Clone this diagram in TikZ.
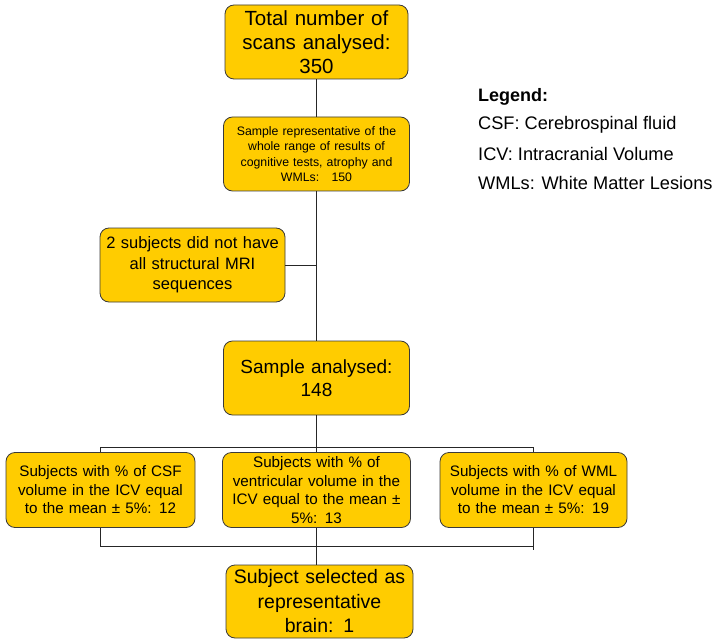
\documentclass[tikz,border=0pt]{standalone}
\usepackage{fontspec}
\setmainfont{Liberation Sans}
\definecolor{boxfill}{HTML}{FFCC00}
\definecolor{boxline}{HTML}{3A3A3A}
\begin{document}
\begin{tikzpicture}[x=1pt,y=-1pt,
  fbox/.style={draw=boxline,line width=0.8pt,fill=boxfill,rounded corners=9pt,align=center,inner sep=2pt},
  conn/.style={draw=black!85,line width=0.9pt},
  legtext/.style={anchor=west,inner sep=0pt,font=\fontsize{18.2}{20}\selectfont}]
\useasboundingbox (0,0) rectangle (717,639);
\node[fbox,minimum width=183pt,minimum height=74pt,text width=175pt,font=\fontsize{20.5}{24}\selectfont] (total) at (316.5,42) {Total number of\\scans analysed:\\350};
\node[fbox,minimum width=186pt,minimum height=74pt,text width=180pt,font=\fontsize{12.3}{15.5}\selectfont] (sample) at (316.5,154) {Sample representative of the\\whole range of results of\\cognitive tests, atrophy and\\WMLs:\ \ \ 150};
\node[fbox,minimum width=185pt,minimum height=74pt,text width=180pt,font=\fontsize{16.5}{20.5}\selectfont] (excl) at (192.5,265) {2 subjects did not have\\all structural MRI\\sequences};
\node[fbox,minimum width=186pt,minimum height=74pt,text width=180pt,font=\fontsize{19}{23.5}\selectfont] (analysed) at (316.5,378) {Sample analysed:\\148};
\node[fbox,minimum width=189pt,minimum height=75pt,text width=183pt,font=\fontsize{15.2}{18.5}\selectfont] (csf) at (100.5,490) {Subjects with \% of CSF\\volume in the ICV equal\\to the mean ± 5\%: 12};
\node[fbox,minimum width=188pt,minimum height=75pt,text width=183pt,font=\fontsize{15.2}{18.5}\selectfont] (vent) at (316.5,490) {Subjects with \% of\\ventricular volume in the\\ICV equal to the mean ±\\5\%: 13};
\node[fbox,minimum width=187pt,minimum height=75pt,text width=183pt,font=\fontsize{15.2}{18.5}\selectfont] (wml) at (533.5,490) {Subjects with \% of WML\\volume in the ICV equal\\to the mean ± 5\%: 19};
\node[fbox,minimum width=187pt,minimum height=73pt,text width=180pt,font=\fontsize{19.5}{24.5}\selectfont] (brain) at (319.5,601.5) {Subject selected as\\representative\\brain: 1};
% legend
\node[legtext,font=\fontsize{18}{20}\selectfont\bfseries] (leg) at (478,97) {Legend:};
\node[legtext] (l1) at (478,125) {CSF: Cerebrospinal fluid};
\node[legtext] (l2) at (478,154) {ICV: Intracranial Volume};
\node[legtext] (l3) at (478,183) {WMLs: White Matter Lesions};
% connectors
\coordinate (b1) at (316.5,447);
\coordinate (j1) at (excl.east -| b1);
\coordinate (bl) at (csf.north |- b1);
\coordinate (br) at (wml.north |- b1);
\coordinate (c1) at (316.5,546);
\coordinate (cl) at (csf.south |- c1);
\coordinate (cr) at (wml.south |- c1);
\coordinate (crx) at (533.5,550);
\draw[conn] (total.south) -- (sample.north);
\draw[conn] (sample.south) -- (analysed.north);
\draw[conn] (excl.east) -- (j1);
\draw[conn] (analysed.south) -- (b1);
\draw[conn] (csf.north) -- (bl) -- (br) -- (wml.north);
\draw[conn] (b1) -- (vent.north);
\draw[conn] (csf.south) -- (cl) -- (cr);
\draw[conn] (wml.south) -- (crx);
\draw[conn] (vent.south) -- (vent.south |- brain.north);
\end{tikzpicture}
\end{document}
